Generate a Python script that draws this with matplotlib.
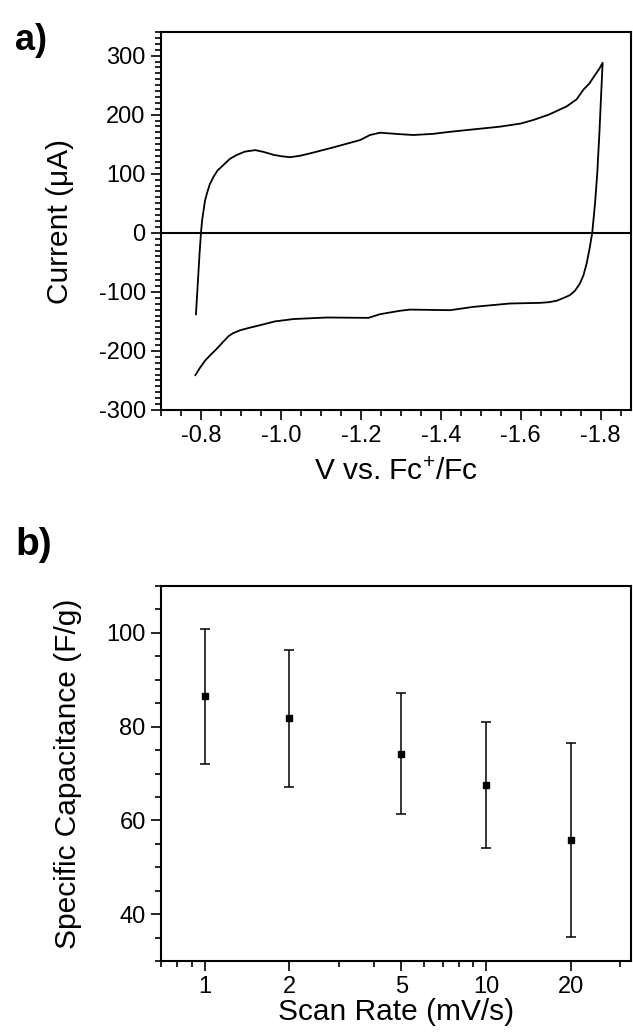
import matplotlib
matplotlib.use("Agg")
import matplotlib.pyplot as plt
from matplotlib.ticker import MultipleLocator, FixedLocator, FixedFormatter, NullFormatter
import numpy as np

plt.rcParams['font.family'] = ['Liberation Sans', 'DejaVu Sans']
plt.rcParams['mathtext.default'] = 'regular'
plt.rcParams['axes.unicode_minus'] = False

# ---- Panel a: cyclic voltammogram ----
cv_forward_v = [-0.7875, -0.7915, -0.7965, -0.800, -0.803, -0.8065, -0.810, -0.815, -0.822,
                -0.8315, -0.842, -0.8565, -0.872, -0.89, -0.91, -0.936, -0.9565, -0.9815,
                -1.003, -1.023, -1.048, -1.073, -1.1315, -1.198, -1.223, -1.248,
                -1.298, -1.3315, -1.38, -1.423, -1.48, -1.548, -1.6, -1.6315, -1.67,
                -1.715, -1.74, -1.7565, -1.772, -1.7858, -1.797, -1.805]
cv_forward_i = [-138, -91.5, -35, 0, 22, 38, 54, 67, 82,
                95, 106, 115, 125, 132, 137.5, 140, 137, 132,
                129.5, 128, 130.5, 134.5, 144.7, 157, 165.6, 169.5,
                167, 165.6, 167.5, 171, 175, 179.7, 185, 191, 200,
                214, 226, 242, 253, 267, 278, 288]
cv_reverse_v = [-1.801, -1.797, -1.7915, -1.786, -1.779, -1.772, -1.765, -1.757, -1.748,
                -1.736, -1.723, -1.705, -1.69, -1.67, -1.648, -1.573, -1.4815, -1.423,
                -1.323, -1.298, -1.248, -1.219, -1.115, -1.0315, -0.985, -0.948, -0.92,
                -0.898, -0.88, -0.869, -0.855, -0.84, -0.825, -0.811, -0.798, -0.786]
cv_reverse_i = [230, 170, 100, 50, 0, -28, -52, -72, -86,
                -98, -105.6, -111, -115, -117.5, -118.6, -119.7, -125.4, -131,
                -130, -132, -137.8, -144, -143.4, -146, -150, -156.4, -161,
                -165, -170, -175, -185, -196, -206, -215.8, -228, -241]

# ---- Panel b: specific capacitance vs scan rate ----
scan_rate = [1, 2, 5, 10, 20]
capacitance = [86.5, 81.8, 74.2, 67.6, 55.8]
cap_err = [14.4, 14.6, 12.9, 13.4, 20.7]
xtick_vals = [1, 2, 5, 10, 20]
xtick_labels = ['1', '2', '5', '10', '20']

fig = plt.figure(figsize=(6.33, 10.36), dpi=100)
W, H = 633, 1036
axa = fig.add_axes([161 / W, 1 - 410 / H, 470 / W, 378 / H])
axb = fig.add_axes([161 / W, 1 - 961 / H, 470 / W, 375 / H])

tick_fs = 17
label_fs = 21.5

for ax in (axa, axb):
    for s in ax.spines.values():
        s.set_linewidth(1.5)
    ax.tick_params(which='major', direction='out', length=7, width=1.2, labelsize=tick_fs,
                   pad=4, top=False, right=False)
    ax.tick_params(which='minor', direction='out', length=4, width=1.2, top=False, right=False)

v = np.array(cv_forward_v + cv_reverse_v)
i = np.array(cv_forward_i + cv_reverse_i)
axa.plot(v, i, color='black', lw=1.3)
axa.axhline(0, color='black', lw=1.5)
axa.set_xlim(-0.70, -1.876)
axa.set_ylim(-300, 340)
axa.xaxis.set_major_locator(MultipleLocator(0.2))
axa.xaxis.set_minor_locator(MultipleLocator(0.05))
axa.yaxis.set_major_locator(MultipleLocator(100))
axa.yaxis.set_minor_locator(MultipleLocator(10))
axa.xaxis.set_major_formatter(plt.FuncFormatter(lambda x, p: f"{x:.1f}"))
axa.set_xlabel('V vs. Fc$^{+}$/Fc', fontsize=label_fs, labelpad=8)
axa.set_ylabel('Current (\u03bcA)', fontsize=label_fs)
axa.yaxis.set_label_coords(-0.185, 0.5)

axb.errorbar(scan_rate, capacitance, yerr=cap_err, fmt='s', color='black', ms=4.5,
             elinewidth=1.1, capsize=3.6, capthick=1.1)
axb.set_xscale('log')
axb.set_xlim(0.7, 32.7)
axb.set_ylim(30, 110)
axb.xaxis.set_major_locator(FixedLocator(xtick_vals))
axb.xaxis.set_major_formatter(FixedFormatter(xtick_labels))
axb.xaxis.set_minor_locator(FixedLocator([0.7, 0.8, 0.9, 3, 4, 6, 7, 8, 9, 30]))
axb.xaxis.set_minor_formatter(NullFormatter())
axb.yaxis.set_major_locator(MultipleLocator(20))
axb.yaxis.set_minor_locator(MultipleLocator(5))
axb.set_xlabel('Scan Rate (mV/s)', fontsize=label_fs, labelpad=0)
axb.set_ylabel('Specific Capacitance (F/g)', fontsize=label_fs)
axb.yaxis.set_label_coords(-0.168, 0.5)

fig.text(15 / W, 1 - 50 / H, 'a)', fontsize=26, fontweight='bold', ha='left', va='baseline')
fig.text(15 / W, 1 - 555 / H, 'b)', fontsize=28, fontweight='bold', ha='left', va='baseline')

fig.savefig('out.png', dpi=100)
